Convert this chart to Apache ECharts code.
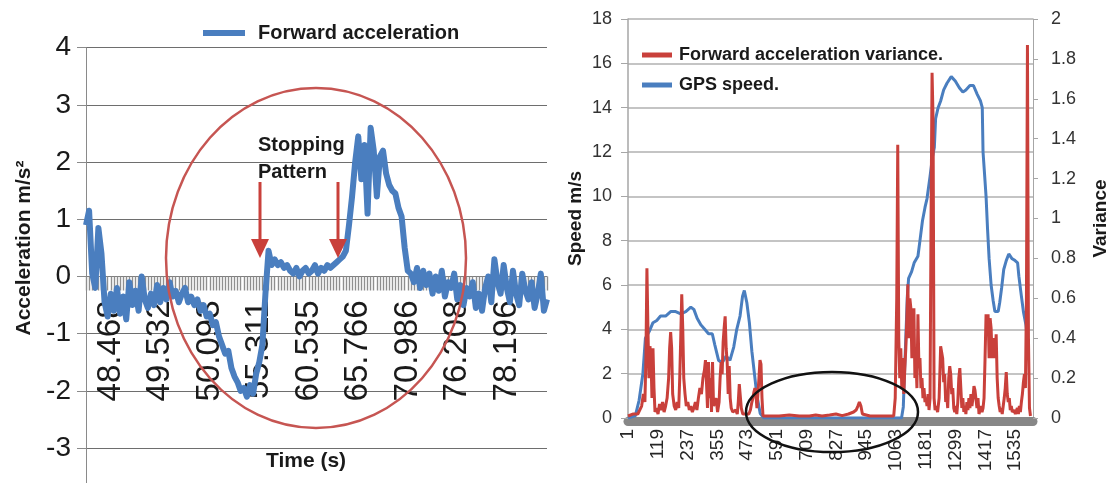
<!DOCTYPE html>
<html><head><meta charset="utf-8">
<script src="https://cdn.jsdelivr.net/npm/echarts@6/dist/echarts.min.js"></script>
<style>html,body{margin:0;padding:0;background:#fff}#c{width:1111px;height:483px}</style>
</head><body><div id="c"></div>
<script>
// ---------- Left panel: forward acceleration (m/s^2), one value per sample ----------
const accel = [
  0.9, 1.15, 0.05, -0.2, 0.85, 0.4,
  -0.45, -0.7, -0.3, -0.6, -0.2, -0.65, -0.35, -0.75, -0.1, -0.5, -0.25, -0.6, 0.0, -0.4, -0.55,
  -0.3, -0.5, -0.15, -0.45, -0.2, -0.4, -0.1, -0.35, -0.25, -0.45,
  -0.3, -0.2, -0.45, -0.35, -0.5, -0.4, -0.6, -0.5, -0.7, -0.65,
  -0.85, -0.8, -1.05, -1.2, -1.35, -1.3, -1.6, -1.75, -1.85, -2.0,
  -1.95, -2.1, -1.9, -2.05, -1.7,
  -1.5, -1.2, -0.3, 0.45, 0.2,
  0.3, 0.2, 0.25, 0.15, 0.2, 0.1, 0.05, 0.15, 0.0, 0.1, 0.15, 0.05, 0.1, 0.2, 0.05, 0.15, 0.1, 0.2, 0.15, 0.2,
  0.25, 0.3, 0.35,
  0.45, 0.9, 1.4, 2.0, 2.45, 1.7, 2.3, 1.1, 2.6, 2.2, 1.4, 2.1, 2.2, 1.8, 1.6, 1.5, 1.45, 1.2, 1.05, 0.5, 0.1,
  0.05, -0.1, 0.15, -0.2, 0.1, -0.15, 0.05, -0.3, 0.0, -0.25, 0.1, -0.35, -0.1, -0.2, 0.05,
  -0.4, -0.15, -0.5, -0.2, -0.35, -0.1, -0.55, -0.3, -0.6, -0.2, 0.0, -0.45, 0.3, -0.1, -0.3,
  0.2, -0.2, -0.45, 0.1, -0.3, -0.5, 0.05, -0.25, -0.4, -0.1, -0.55, -0.3, 0.05, -0.6, -0.4
];
// time tick labels and the sample index each one sits on
const timeLabels = ['48.468', '49.532', '50.093', '55.311', '60.535', '65.766', '70.986', '76.208', '78.196'];
const timeLabelIdx = [8, 24, 40, 56, 72, 88, 104, 120, 136];
const accelRange = [-4, 4];

// ---------- Right panel: [sample index, value] ----------
const gpsSpeed = [
  [1,0],[30,0.1],[45,0.8],[60,2.0],[70,3.6],[85,3.9],[100,4.3],[115,4.4],[130,4.6],[150,4.6],[170,4.8],[190,4.8],
  [210,4.7],[230,4.8],[250,5.0],[262,4.9],[275,4.5],[290,4.2],[305,4.0],[320,3.8],[335,3.8],[345,3.3],[360,2.6],
  [375,2.5],[390,2.8],[405,2.6],[420,3.2],[432,4.0],[445,4.6],[455,5.5],[462,5.75],[472,5.2],[482,4.3],[492,3.0],
  [502,2.0],[512,1.0],[525,0.2],[540,0],[800,0],[1085,0],
  [1092,0.5],[1100,3.0],[1108,5.5],[1113,6.3],[1125,6.6],[1135,7.0],[1150,7.3],[1158,8.0],[1168,8.9],[1178,9.5],
  [1186,9.9],[1198,10.9],[1208,11.8],[1215,12.2],[1220,13.5],[1230,14.0],[1240,14.3],[1252,14.8],[1265,15.1],
  [1282,15.4],[1298,15.2],[1314,14.9],[1328,14.7],[1340,14.8],[1356,15.0],[1370,15.0],[1385,14.6],[1398,14.3],
  [1405,14.0],[1408,12.0],[1414,11.0],[1420,10.0],[1426,8.5],[1432,7.2],[1440,6.0],[1448,5.3],[1455,4.8],
  [1468,4.8],[1474,5.2],[1482,5.9],[1490,6.7],[1500,7.1],[1510,7.4],[1522,7.2],[1535,7.1],[1545,7.0],[1550,6.4],
  [1560,5.5],[1568,4.8],[1578,4.2],[1585,3.5]
];
const accelVariance = [
  [1,0.01],[20,0.02],[40,0.02],[55,0.06],[62,0.12],[68,0.08],[72,0.3],[76,0.75],[80,0.45],[84,0.2],[88,0.36],
  [92,0.3],[96,0.1],[100,0.35],[104,0.15],[108,0.03],[114,0.05],[120,0.02],[126,0.07],[132,0.04],[138,0.08],
  [144,0.03],[150,0.06],[156,0.1],[162,0.2],[166,0.35],[170,0.43],[174,0.35],[178,0.12],[184,0.06],[190,0.04],
  [196,0.08],[202,0.05],[206,0.2],[210,0.4],[214,0.62],[218,0.45],[222,0.2],[227,0.12],[232,0.06],[238,0.08],
  [244,0.04],[250,0.06],[256,0.03],[262,0.05],[268,0.08],[274,0.04],[280,0.1],[286,0.15],[292,0.12],[298,0.2],
  [304,0.24],[308,0.29],[312,0.18],[316,0.05],[320,0.28],[324,0.1],[328,0.2],[332,0.03],[336,0.28],[340,0.06],
  [346,0.05],[350,0.1],[356,0.03],[362,0.08],[366,0.2],[370,0.28],[374,0.22],[378,0.38],[382,0.45],[386,0.51],
  [390,0.35],[394,0.28],[398,0.12],[402,0.26],[406,0.1],[410,0.05],[416,0.03],[422,0.02],[428,0.04],[434,0.02],
  [438,0.08],[442,0.17],[446,0.17],[450,0.05],[456,0.02],[462,0.03],[468,0.02],[474,0.03],[480,0.02],[486,0.04],
  [492,0.08],[496,0.1],[500,0.13],[504,0.15],[508,0.12],[512,0.05],[516,0.06],[520,0.2],[524,0.29],[528,0.27],
  [532,0.1],[536,0.01],
  [560,0.01],[600,0.01],[640,0.015],[680,0.01],[720,0.01],[745,0.015],[770,0.01],[800,0.015],[825,0.02],
  [850,0.012],[875,0.02],[895,0.03],[905,0.04],[912,0.06],[918,0.08],[924,0.06],[930,0.02],[960,0.01],
  [1000,0.01],[1030,0.01],[1054,0.01],
  [1060,0.1],[1066,0.6],[1070,1.37],[1074,0.4],[1078,0.2],[1082,0.35],[1086,0.15],[1090,0.3],[1094,0.12],
  [1098,0.25],[1102,0.35],[1106,0.5],[1110,0.67],[1114,0.4],[1118,0.6],[1122,0.55],[1126,0.3],[1130,0.45],
  [1134,0.55],[1138,0.2],[1142,0.3],[1146,0.15],[1150,0.52],[1154,0.25],[1158,0.3],[1162,0.15],[1166,0.2],
  [1170,0.1],[1174,0.15],[1178,0.08],[1182,0.1],[1186,0.06],[1190,0.12],[1194,0.04],[1198,0.1],[1202,1.0],
  [1206,1.73],[1210,1.5],[1214,0.1],[1218,0.04],[1222,0.06],[1228,0.03],[1234,0.1],[1240,0.36],[1244,0.33],
  [1248,0.3],[1252,0.18],[1256,0.22],[1260,0.08],[1264,0.12],[1268,0.05],[1272,0.2],[1276,0.26],[1280,0.22],
  [1284,0.12],[1288,0.15],[1292,0.05],[1296,0.03],[1300,0.06],[1304,0.02],[1308,0.08],[1312,0.2],[1316,0.25],
  [1320,0.15],[1324,0.05],[1328,0.1],[1332,0.03],[1336,0.06],[1340,0.02],[1344,0.08],[1348,0.04],[1352,0.1],
  [1356,0.05],[1360,0.12],[1364,0.06],[1368,0.1],[1372,0.16],[1376,0.14],[1380,0.15],[1384,0.05],[1388,0.1],
  [1392,0.02],[1396,0.04],[1400,0.06],[1404,0.03],[1408,0.05],[1412,0.1],[1416,0.3],[1420,0.52],[1424,0.45],
  [1428,0.52],[1432,0.3],[1436,0.5],[1440,0.45],[1444,0.3],[1448,0.35],[1452,0.4],[1456,0.3],[1460,0.42],
  [1464,0.2],[1468,0.1],[1472,0.06],[1476,0.03],[1480,0.05],[1484,0.02],[1488,0.06],[1492,0.1],[1496,0.15],
  [1500,0.23],[1504,0.12],[1508,0.08],[1512,0.1],[1516,0.04],[1520,0.06],[1524,0.03],[1528,0.02],[1532,0.04],
  [1536,0.02],[1540,0.03],[1544,0.05],[1548,0.02],[1552,0.06],[1556,0.03],[1560,0.08],[1564,0.12],[1568,0.18],
  [1572,0.22],[1576,0.15],[1580,0.6],[1584,1.87],[1588,0.4],[1592,0.05],[1596,0.01]
];
const sampleTicks = [1, 119, 237, 355, 473, 591, 709, 827, 945, 1063, 1181, 1299, 1417, 1535];

const FONT = '"Liberation Sans", Arial, sans-serif';
const RED = '#c9403b', BLUE = '#4a7ebf';

const chart = echarts.init(document.getElementById('c'), null, {renderer: 'canvas'});
const accelIdx = accel.map((_, i) => i);

const G0 = {left: 86, top: 47.7, width: 461, height: 457.6};
// place the time axis on the y = 0 line of the left plot
const zeroOffset = -G0.height * (0 - accelRange[0]) / (accelRange[1] - accelRange[0]);

const option = {
  backgroundColor: '#ffffff',
  animation: false,
  textStyle: {fontFamily: FONT},
  grid: [
    Object.assign({outerBoundsMode: 'none', containLabel: false}, G0),
    {left: 628, top: 19, width: 405, height: 399, outerBoundsMode: 'none', containLabel: false}
  ],
  legend: [
    {
      data: ['Forward acceleration'], left: 198, top: 18,
      icon: 'rect', itemWidth: 42, itemHeight: 6,
      textStyle: {fontFamily: FONT, fontSize: 20, fontWeight: 'bold', color: '#1a1a1a', padding: [0, 0, 0, 8]}
    },
    {
      data: ['Forward acceleration variance.', 'GPS speed.'], left: 637, top: 41, orient: 'vertical',
      icon: 'rect', itemWidth: 30, itemHeight: 5, itemGap: 12,
      textStyle: {fontFamily: FONT, fontSize: 18, fontWeight: 'bold', color: '#1a1a1a', padding: [0, 0, 0, 2]}
    }
  ],
  xAxis: [
    {
      gridIndex: 0, type: 'value', min: 0, max: accel.length - 1, position: 'bottom', offset: zeroOffset,
      axisLine: {show: true, onZero: false, lineStyle: {color: '#7f7f7f', width: 1}},
      axisTick: {show: true, customValues: accelIdx, length: 14, lineStyle: {color: '#8f8f8f', width: 1.4}},
      axisLabel: {
        customValues: timeLabelIdx, rotate: 90, fontSize: 33, margin: 24, color: '#1a1a1a', fontFamily: FONT,
        formatter: v => timeLabels[timeLabelIdx.indexOf(v)]
      },
      splitLine: {show: false}
    },
    {
      gridIndex: 1, type: 'value', min: 1, max: 1606, offset: 3,
      axisLine: {show: true, onZero: false, lineStyle: {color: '#878787', width: 9}},
      axisTick: {show: false},
      axisLabel: {customValues: sampleTicks, rotate: 90, fontSize: 19, margin: 8, color: '#262626', fontFamily: FONT,
        formatter: v => String(v)},
      splitLine: {show: false}
    }
  ],
  yAxis: [
    {
      gridIndex: 0, type: 'value', min: accelRange[0], max: accelRange[1], interval: 1,
      axisLine: {show: true, lineStyle: {color: '#8a8a8a', width: 1}},
      axisTick: {show: true, length: 9, lineStyle: {color: '#8a8a8a'}},
      axisLabel: {fontSize: 28, margin: 15, color: '#1a1a1a', fontFamily: FONT},
      splitLine: {show: true, lineStyle: {color: '#6e6e6e', width: 1}}
    },
    {
      gridIndex: 1, type: 'value', min: 0, max: 18, interval: 2, position: 'left',
      name: 'Speed m/s', nameLocation: 'middle', nameGap: 43, nameRotate: 90,
      nameTextStyle: {fontFamily: FONT, fontSize: 19, fontWeight: 'bold', color: '#1a1a1a'},
      axisLine: {show: true, lineStyle: {color: '#a6a6a6', width: 1.5}},
      axisTick: {show: true, length: 7, lineStyle: {color: '#a6a6a6'}},
      axisLabel: {fontSize: 18, margin: 16, color: '#333333', fontFamily: FONT},
      splitLine: {show: true, lineStyle: {color: '#b0b0b0', width: 1.5}}
    },
    {
      gridIndex: 1, type: 'value', min: 0, max: 2, interval: 0.2, position: 'right',
      name: 'Variance', nameLocation: 'middle', nameGap: 58, nameRotate: 90,
      nameTextStyle: {fontFamily: FONT, fontSize: 19, fontWeight: 'bold', color: '#1a1a1a'},
      axisLine: {show: true, lineStyle: {color: '#a6a6a6', width: 1}},
      axisTick: {show: true, length: 5, lineStyle: {color: '#a6a6a6'}},
      axisLabel: {fontSize: 18, margin: 18, color: '#333333', fontFamily: FONT},
      splitLine: {show: false}
    }
  ],
  series: [
    {
      name: 'Forward acceleration', type: 'line', xAxisIndex: 0, yAxisIndex: 0,
      data: accel.map((v, i) => [i, v]), showSymbol: false, z: 3,
      itemStyle: {color: BLUE}, lineStyle: {color: BLUE, width: 6, join: 'round'}
    },
    {
      name: 'GPS speed.', type: 'line', xAxisIndex: 1, yAxisIndex: 1,
      data: gpsSpeed, showSymbol: false, z: 3,
      itemStyle: {color: BLUE}, lineStyle: {color: BLUE, width: 3}
    },
    {
      name: 'Forward acceleration variance.', type: 'line', xAxisIndex: 1, yAxisIndex: 2,
      data: accelVariance, showSymbol: false, z: 4,
      itemStyle: {color: RED}, lineStyle: {color: RED, width: 3}
    }
  ],
  graphic: [
    {type: 'text', x: 24, y: 248, rotation: Math.PI / 2, z: 10,
      style: {text: 'Acceleration m/s²', font: 'bold 21px ' + FONT, fill: '#1a1a1a', align: 'center', verticalAlign: 'middle'}},
    {type: 'text', x: 306, y: 461, z: 10,
      style: {text: 'Time (s)', font: 'bold 21px ' + FONT, fill: '#1a1a1a', align: 'center', verticalAlign: 'middle'}},
    {type: 'text', x: 258, y: 145, z: 10,
      style: {text: 'Stopping', font: 'bold 20px ' + FONT, fill: '#1a1a1a', align: 'left', verticalAlign: 'middle'}},
    {type: 'text', x: 258, y: 172, z: 10,
      style: {text: 'Pattern', font: 'bold 20px ' + FONT, fill: '#1a1a1a', align: 'left', verticalAlign: 'middle'}},
    {type: 'ellipse', z: 10, shape: {cx: 316, cy: 258, rx: 150, ry: 170},
      style: {fill: 'none', stroke: '#c65552', lineWidth: 2.5}},
    {type: 'line', z: 11, shape: {x1: 260, y1: 182, x2: 260, y2: 245}, style: {stroke: '#c9403b', lineWidth: 3}},
    {type: 'polygon', z: 11, shape: {points: [[251, 239], [269, 239], [260, 258]]}, style: {fill: '#c9403b'}},
    {type: 'line', z: 11, shape: {x1: 338, y1: 182, x2: 338, y2: 245}, style: {stroke: '#c9403b', lineWidth: 3}},
    {type: 'polygon', z: 11, shape: {points: [[329, 239], [347, 239], [338, 258]]}, style: {fill: '#c9403b'}},
    {type: 'ellipse', z: 10, shape: {cx: 832, cy: 412, rx: 86, ry: 40},
      style: {fill: 'none', stroke: '#111111', lineWidth: 2.5}}
  ]
};
chart.setOption(option);
</script>
</body></html>
